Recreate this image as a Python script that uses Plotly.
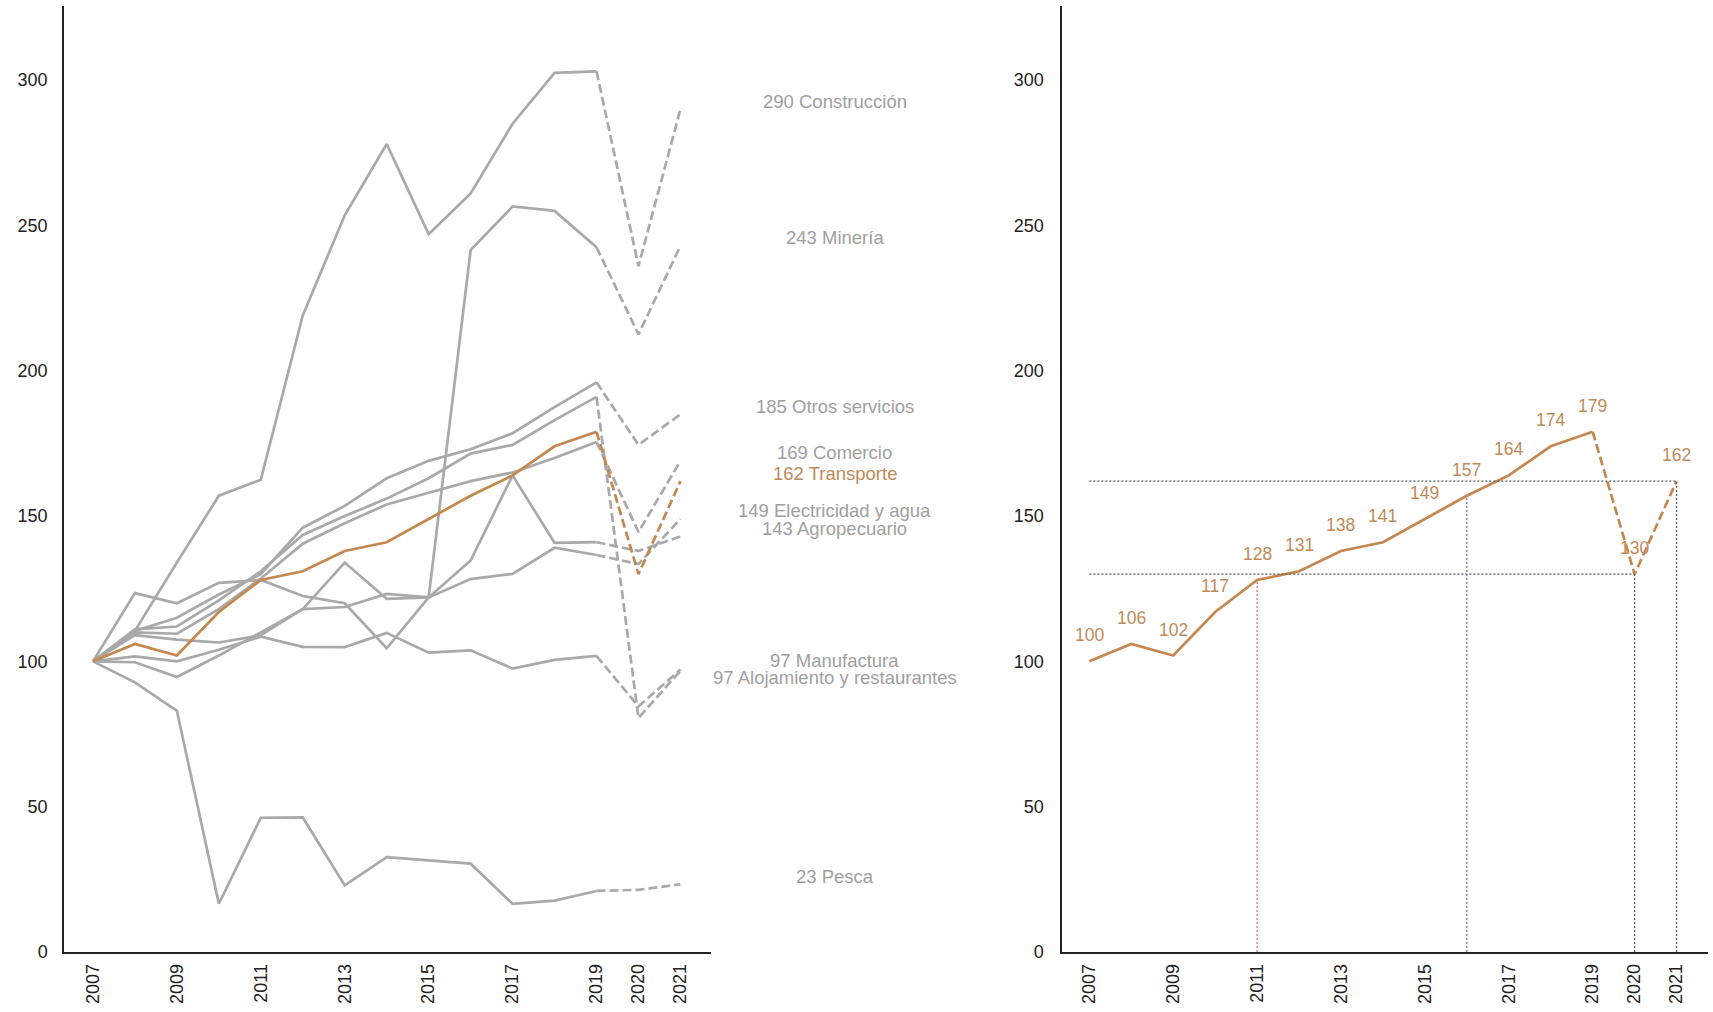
import plotly.graph_objects as go

# ---------------- data ----------------
years = list(range(2007, 2022))
tick_years = [2007, 2009, 2011, 2013, 2015, 2017, 2019, 2020, 2021]
y_ticks = [0, 50, 100, 150, 200, 250, 300]

construccion = [100, 110.5, 134, 157, 162.5, 219, 253.5, 278, 247, 261, 285, 302.5, 303, 236, 290]
mineria = [100, 123.5, 120, 127, 128, 122.5, 120, 104.5, 122, 241.5, 256.5, 255, 242.5, 212.5, 243]
otros_servicios = [100, 110.5, 115, 123, 130, 146, 153.5, 163, 169, 173, 178.5, 187.5, 196, 174.5, 185]
comercio = [100, 110, 109.5, 118, 128.5, 140.5, 147.5, 154, 158, 162, 165, 170, 175.5, 144.5, 169]
transporte = [100, 106, 102, 117, 128, 131, 138, 141, 149, 157, 164, 174, 179, 130, 162]
electricidad = [100, 99.7, 94.6, 102, 110, 118, 118.7, 123.2, 122, 128.3, 130.1, 139.1, 136.6, 133.5, 149]
agropecuario = [100, 109, 107.5, 106.5, 109, 118, 134, 121.5, 122, 134.7, 164, 140.8, 141, 138, 143]
manufactura = [100, 101.7, 100, 104, 108.5, 105, 104.9, 109.8, 103, 103.8, 97.5, 100.5, 101.9, 84.5, 97.2]
alojamiento = [100, 111, 112, 121, 131, 143.5, 150, 156, 163, 171.5, 174.5, 183, 191, 80.5, 96.8]
pesca = [100, 92.8, 83, 16.6, 46.2, 46.3, 22.9, 32.6, 31.5, 30.4, 16.6, 17.7, 21, 21.4, 23.3]

series = {
    "Construcción": construccion,
    "Minería": mineria,
    "Otros servicios": otros_servicios,
    "Comercio": comercio,
    "Electricidad y agua": electricidad,
    "Agropecuario": agropecuario,
    "Manufactura": manufactura,
    "Alojamiento y restaurantes": alojamiento,
    "Pesca": pesca,
    "Transporte": transporte,
}
highlight = "Transporte"
split_year = 2019

# reference markers on the right panel (years)
ref_years_colors = {2011: "#e0606a", 2016: "#6a6ad8", 2020: "#555555", 2021: "#555555"}
ref_h_years = [2021, 2020]

# ---------------- style ----------------
GRAY = "#a9a9a9"
ORANGE = "#c4884f"
LABEL_ORANGE = "#c08a58"
LABEL_GRAY = "#a0a0a0"
FONT = "Arial, Liberation Sans, sans-serif"
LW = 2.7
DASH = "9px,4px"
label_nudge = {"Alojamiento y restaurantes": -15, "Manufactura": 1}

fig = go.Figure()
si = years.index(split_year)

for ax in [("x", "y"), ("x2", "y2")]:
    for name, vals in series.items():
        if ax[0] == "x2" and name != highlight:
            continue
        color = ORANGE if name == highlight else GRAY
        fig.add_trace(go.Scatter(x=years[:si + 1], y=vals[:si + 1], mode="lines",
                                 line=dict(color=color, width=LW), xaxis=ax[0], yaxis=ax[1],
                                 showlegend=False, hoverinfo="skip"))
        fig.add_trace(go.Scatter(x=years[si:], y=vals[si:], mode="lines",
                                 line=dict(color=color, width=LW, dash=DASH), xaxis=ax[0], yaxis=ax[1],
                                 showlegend=False, hoverinfo="skip"))

annotations = []
# end labels on left panel
for name, vals in series.items():
    last = vals[-1]
    annotations.append(dict(
        x=0.4688, xref="paper", y=last, yref="y", text=f"{round(last)} {name}",
        showarrow=False, xanchor="center", yanchor="middle",
        yshift=8 + label_nudge.get(name, 0),
        font=dict(family=FONT, size=18.5, color=LABEL_ORANGE if name == highlight else LABEL_GRAY)))

# value labels on right panel
for yr, v in zip(years, transporte):
    annotations.append(dict(
        x=yr, xref="x2", y=v, yref="y2", text=str(round(v)), showarrow=False,
        xanchor="center", yanchor="middle", yshift=26,
        font=dict(family=FONT, size=17.5, color=LABEL_ORANGE)))

shapes = []
for yr in ref_h_years:
    v = transporte[years.index(yr)]
    shapes.append(dict(type="line", xref="x2", yref="y2", x0=years[0], x1=yr, y0=v, y1=v,
                       line=dict(color="#555555", width=1.2, dash="2px,2px")))
for yr, col in ref_years_colors.items():
    v = transporte[years.index(yr)]
    shapes.append(dict(type="line", xref="x2", yref="y2", x0=yr, x1=yr, y0=0, y1=v,
                       line=dict(color=col, width=1.2, dash="2px,2px")))

axis_common = dict(showgrid=False, zeroline=False, showline=True, linecolor="#222222", linewidth=1.5,
                   ticks="", tickfont=dict(family=FONT, size=18, color="#222222"))

fig.update_layout(
    width=1713, height=1012,
    margin=dict(l=64, r=5, t=6, b=60),
    paper_bgcolor="white", plot_bgcolor="white",
    showlegend=False,
    xaxis=dict(domain=[0, 0.3936], range=[2006.31, 2021.73], tickvals=tick_years, tickangle=-90,
               ticklabelstandoff=3, anchor="y", **axis_common),
    yaxis=dict(domain=[0, 1], range=[0, 325.5], tickvals=y_ticks, ticklabelstandoff=11,
               anchor="x", **axis_common),
    xaxis2=dict(domain=[0.6071, 1.0], range=[2006.35, 2021.75], tickvals=tick_years, tickangle=-90,
                ticklabelstandoff=3, anchor="y2", **axis_common),
    yaxis2=dict(domain=[0, 1], range=[0, 325.5], tickvals=y_ticks, ticklabelstandoff=13,
                anchor="x2", **axis_common),
    annotations=annotations,
    shapes=shapes,
)

fig.write_html("out.html", config={"displayModeBar": False},
               post_script="document.body.style.margin='0';document.body.style.overflow='hidden';")
